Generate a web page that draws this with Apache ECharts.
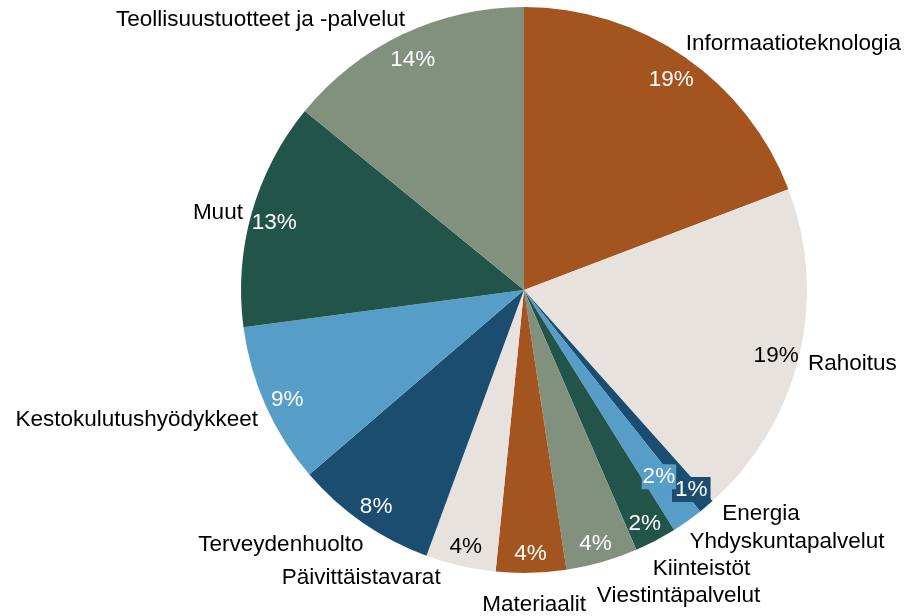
<!DOCTYPE html>
<html>
<head>
<meta charset="utf-8">
<script src="https://cdn.jsdelivr.net/npm/echarts@6/dist/echarts.min.js"></script>
<style>
    html, body { margin: 0; padding: 0; background: #fff; }
    #chart { width: 904px; height: 616px; }
</style>
</head>
<body>
<div id="chart"></div>
<script>
    // sektorit myötäpäivään ylhäältä alkaen
    const sectors = ['Informaatioteknologia', 'Rahoitus', 'Energia', 'Yhdyskuntapalvelut', 'Kiinteistöt',
        'Viestintäpalvelut', 'Materiaalit', 'Päivittäistavarat', 'Terveydenhuolto',
        'Kestokulutushyödykkeet', 'Muut', 'Teollisuustuotteet ja -palvelut'];
    const weights = [19.2, 19.2, 0.9, 1.8, 2.4, 4.1, 4.0, 4.0, 8.1, 9.2, 13.0, 14.1];
    const colors = ['#A4541E', '#E7E2DD', '#1A4D70', '#569DC7', '#22544A', '#81917E',
        '#A4541E', '#E7E2DD', '#1A4D70', '#569DC7', '#22544A', '#81917E'];

    const font = "'Liberation Sans', Arial, sans-serif";
    const fontSize = 22.5;
    const light = ['#E7E2DD'];

    // nimien siirrot echartsin oman asettelun jälkeen [dx, dy]
    const nameShift = {
        'Informaatioteknologia': [-5, -10],
        'Rahoitus': [3, 10],
        'Energia': [-12, 10],
        'Yhdyskuntapalvelut': [-21, 13],
        'Kiinteistöt': [-27, 15],
        'Viestintäpalvelut': [-40, 17],
        'Materiaalit': [-53, 1],
        'Päivittäistavarat': [-15, 8],
        'Terveydenhuolto': [7, 19],
        'Kestokulutushyödykkeet': [0, 13],
        'Muut': [-1, 1],
        'Teollisuustuotteet ja -palvelut': [8, -11]
    };

    const chart = echarts.init(document.getElementById('chart'));

    const slices = sectors.map((name, i) => ({
        name: name,
        value: weights[i],
        itemStyle: {color: colors[i]}
    }));

    const pctSlices = sectors.map((name, i) => {
        const item = {
            name: name,
            value: weights[i],
            label: {color: light.includes(colors[i]) ? '#000' : '#fff'}
        };
        if (name === 'Yhdyskuntapalvelut') {
            item.label.backgroundColor = colors[i];
            item.label.padding = [1, 1];
            item.label.offset = [-15, -25];
        }
        if (name === 'Energia') {
            item.label.backgroundColor = colors[i];
            item.label.padding = [1, 3];
            item.label.offset = [0, 1];
        }
        return item;
    });

    const option = {
        animation: false,
        backgroundColor: '#fff',
        series: [
            {
                type: 'pie',
                center: [524, 290],
                radius: 283,
                startAngle: 90,
                clockwise: true,
                silent: true,
                data: slices,
                label: {
                    show: true,
                    position: 'outside',
                    formatter: '{b}',
                    fontFamily: font,
                    fontSize: fontSize,
                    color: '#000',
                    overflow: 'none',
                    distanceToLabelLine: 4
                },
                labelLine: {show: false, length: 4, length2: 0},
                labelLayout: function (p) {
                    const s = nameShift[sectors[p.dataIndex]] || [0, 0];
                    return {dx: s[0], dy: s[1], hideOverlap: false};
                }
            },
            {
                type: 'pie',
                center: [524, 290],
                radius: [230, 283],
                startAngle: 90,
                clockwise: true,
                silent: true,
                data: pctSlices,
                itemStyle: {color: 'rgba(0,0,0,0)'},
                label: {
                    show: true,
                    position: 'inside',
                    formatter: p => Math.round(p.value) + '%',
                    fontFamily: font,
                    fontSize: fontSize,
                    offset: [0, 4]
                },
                labelLine: {show: false},
                labelLayout: {hideOverlap: false}
            }
        ]
    };

    chart.setOption(option);
</script>
</body>
</html>
